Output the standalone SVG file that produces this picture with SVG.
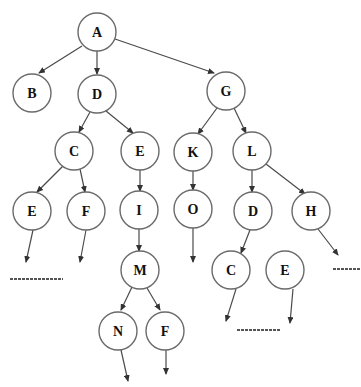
<svg xmlns="http://www.w3.org/2000/svg" width="361" height="387" viewBox="0 0 361 387">
  <style>
    .node circle { fill: #ffffff; stroke: #6a6a6a; stroke-width: 1.4; }
    .node text { font-family: "Liberation Serif", "DejaVu Serif", serif; font-weight: bold; font-size: 14px; fill: #111; text-anchor: middle; }
    .edge { stroke: #4a4a4a; stroke-width: 1.2; fill: none; marker-end: url(#arrow); }
    .dots { stroke: #555; stroke-width: 2; stroke-dasharray: 3 1; }
  </style>
  <defs>
    <marker id="arrow" markerUnits="userSpaceOnUse" markerWidth="7" markerHeight="6" refX="6" refY="3" orient="auto">
      <path d="M0,0 L7,3 L0,6 z" fill="#333"/>
    </marker>
  </defs>
  <rect width="361" height="387" fill="#ffffff"/>

  <!-- connectors -->
  <g id="connectors">
    <line class="edge" x1="82" y1="46" x2="39" y2="73"/>
    <line class="edge" x1="97" y1="51" x2="97" y2="74"/>
    <line class="edge" x1="115" y1="39" x2="214" y2="73"/>
    <line class="edge" x1="90" y1="112" x2="79" y2="132"/>
    <line class="edge" x1="106" y1="111" x2="133" y2="133"/>
    <line class="edge" x1="217" y1="108" x2="198" y2="134"/>
    <line class="edge" x1="234" y1="108" x2="246" y2="133"/>
    <line class="edge" x1="63" y1="166" x2="37" y2="192"/>
    <line class="edge" x1="80" y1="169" x2="85" y2="192"/>
    <line class="edge" x1="140" y1="170" x2="140" y2="191"/>
    <line class="edge" x1="193" y1="171" x2="193" y2="190"/>
    <line class="edge" x1="252" y1="170" x2="252" y2="192"/>
    <line class="edge" x1="266" y1="164" x2="305" y2="194"/>
    <line class="edge" x1="33" y1="230" x2="26" y2="262"/>
    <line class="edge" x1="86" y1="230" x2="80" y2="262"/>
    <line class="edge" x1="139" y1="229" x2="139" y2="251"/>
    <line class="edge" x1="193" y1="228" x2="193" y2="262"/>
    <line class="edge" x1="250" y1="230" x2="241" y2="253"/>
    <line class="edge" x1="318" y1="229" x2="338" y2="255"/>
    <line class="edge" x1="132" y1="287" x2="121" y2="310"/>
    <line class="edge" x1="147" y1="288" x2="160" y2="310"/>
    <line class="edge" x1="236" y1="289" x2="226" y2="321"/>
    <line class="edge" x1="293" y1="289" x2="290" y2="323"/>
    <line class="edge" x1="121" y1="350" x2="128" y2="381"/>
    <line class="edge" x1="166" y1="350" x2="166" y2="374"/>
    <!-- continuation marks -->
    <line class="dots" x1="10" y1="279" x2="63" y2="279"/>
    <line class="dots" x1="237" y1="330" x2="280" y2="330"/>
    <line class="dots" x1="333" y1="269" x2="361" y2="269"/>
  </g>

  <g id="node-A" class="node"><circle cx="97" cy="32" r="19"/><text x="97" y="37">A</text></g>
  <g id="node-B" class="node"><circle cx="32" cy="93" r="19"/><text x="32" y="98">B</text></g>
  <g id="node-D" class="node"><circle cx="97" cy="94" r="19"/><text x="97" y="99">D</text></g>
  <g id="node-G" class="node"><circle cx="226" cy="91" r="19"/><text x="226" y="96">G</text></g>
  <g id="node-C" class="node"><circle cx="74" cy="151" r="19"/><text x="74" y="156">C</text></g>
  <g id="node-E" class="node"><circle cx="140" cy="151" r="19"/><text x="140" y="156">E</text></g>
  <g id="node-K" class="node"><circle cx="193" cy="152" r="19"/><text x="193" y="157">K</text></g>
  <g id="node-L" class="node"><circle cx="252" cy="151" r="19"/><text x="252" y="156">L</text></g>
  <g id="node-E2" class="node"><circle cx="32" cy="211" r="19"/><text x="32" y="216">E</text></g>
  <g id="node-F" class="node"><circle cx="86" cy="211" r="19"/><text x="86" y="216">F</text></g>
  <g id="node-I" class="node"><circle cx="139" cy="210" r="19"/><text x="139" y="215">I</text></g>
  <g id="node-O" class="node"><circle cx="193" cy="209" r="19"/><text x="193" y="214">O</text></g>
  <g id="node-D2" class="node"><circle cx="253" cy="211" r="19"/><text x="253" y="216">D</text></g>
  <g id="node-H" class="node"><circle cx="311" cy="211" r="19"/><text x="311" y="216">H</text></g>
  <g id="node-M" class="node"><circle cx="140" cy="270" r="19"/><text x="140" y="275">M</text></g>
  <g id="node-C2" class="node"><circle cx="231" cy="270" r="19"/><text x="231" y="275">C</text></g>
  <g id="node-E3" class="node"><circle cx="285" cy="270" r="19"/><text x="285" y="275">E</text></g>
  <g id="node-N" class="node"><circle cx="118" cy="331" r="19"/><text x="118" y="336">N</text></g>
  <g id="node-F2" class="node"><circle cx="165" cy="331" r="19"/><text x="165" y="336">F</text></g>
</svg>
